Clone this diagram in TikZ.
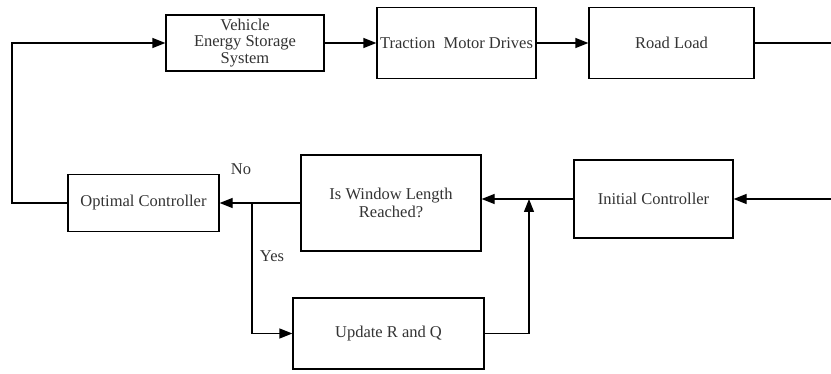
\documentclass[tikz,border=0pt]{standalone}
\usepackage{fontspec}
\setmainfont{Liberation Serif}
\usetikzlibrary{arrows.meta}
\definecolor{txtgray}{HTML}{333333}
\begin{document}
\begin{tikzpicture}[x=1pt,y=-1pt,line width=1.2pt,
  >={Triangle[length=13pt,width=10pt]},
  blk/.style={draw,rectangle,inner sep=0pt,align=center,text=txtgray,
    font=\rmfamily\fontsize{16.5}{16.5}\selectfont},
  lbl/.style={text=txtgray,font=\rmfamily\fontsize{16.5}{16.5}\selectfont}]
\useasboundingbox (0,0) rectangle (831,374);

\node[blk,minimum width=158pt,minimum height=56pt] (veh) at (245,43) {Vehicle\\Energy Storage\\System};
\node[blk,minimum width=159pt,minimum height=71pt] (trac) at (456.5,43) {Traction\ \ Motor Drives};
\node[blk,minimum width=165pt,minimum height=71pt] (road) at (671.5,43) {Road Load};

\node[blk,minimum width=151pt,minimum height=57pt] (opt) at (143.5,203) {Optimal Controller};
\node[blk,minimum width=180pt,minimum height=96pt,font=\rmfamily\fontsize{16.5}{18}\selectfont] (win) at (391,203) {Is Window Length\\Reached?};
\node[blk,minimum width=159pt,minimum height=78pt] (init) at (653.5,199) {Initial Controller};
\node[blk,minimum width=191pt,minimum height=71pt] (upd) at (388.5,333.5) {Update R and Q};

\node[lbl] (no) at (241,169) {No};
\node[lbl] (yes) at (272,256) {Yes};

\coordinate (lc) at (12,203);
\coordinate (ro) at (831,43);
\coordinate (ri) at (831,199);
\coordinate (jl) at (252,203);
\coordinate (jr) at (529,199);

\draw[->] (opt.west) -- (lc) |- (veh.west);
\draw[->] (veh.east) -- (trac.west);
\draw[->] (trac.east) -- (road.west);
\draw (road.east) -- (ro);
\draw[->] (ri) -- (init.east);
\draw[->] (init.west) -- (win.east |- init.west);
\draw[->] (win.west) -- (opt.east);
\draw[->] (jl) |- (upd.west);
\draw[->] (upd.east) -| (jr);

\end{tikzpicture}
\end{document}
